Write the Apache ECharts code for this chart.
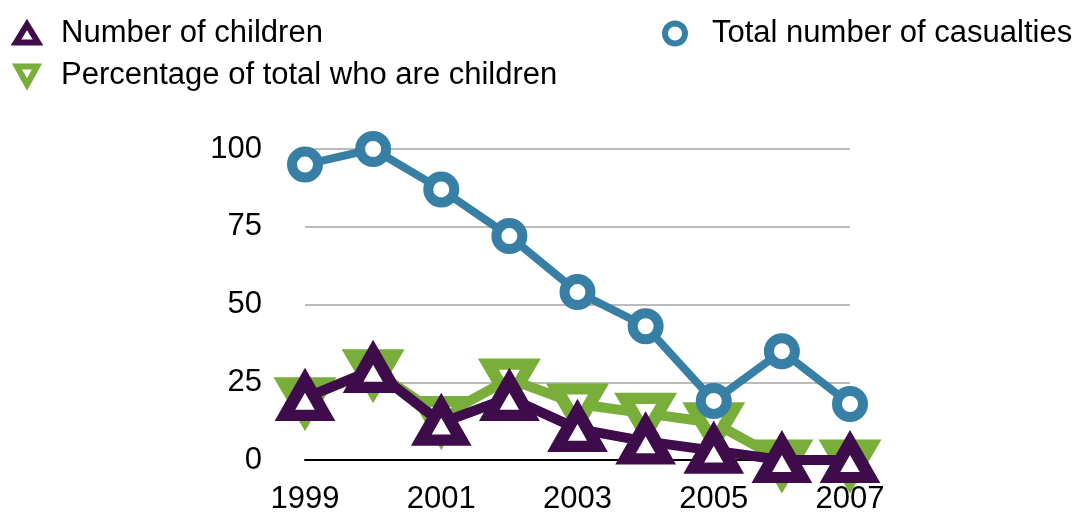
<!DOCTYPE html>
<html>
<head>
<meta charset="utf-8">
<script src="https://cdn.jsdelivr.net/npm/echarts@6/dist/echarts.min.js"></script>
<style>
  html, body { margin: 0; padding: 0; background: #fff; }
  #chart { width: 1083px; height: 516px; }
</style>
</head>
<body>
<div id="chart"></div>
<script>
// 数据
const years = ['1999', '2000', '2001', '2002', '2003', '2004', '2005', '2006', '2007']
const totalCasualties = [95, 100, 87, 72, 54, 43, 19, 35, 18]
const childrenCount = [20, 29, 12, 20, 10, 6, 3, 0, 0]
const childrenPercent = [20, 29, 14, 26, 18, 15, 12, 0, 0]
const yTicks = [0, 25, 50, 75, 100]

const purple = '#3f0c4b'
const green = '#79ae3b'
const blue = '#377fa4'
const downTriangle = 'path://M0,0 L10,0 L5,9 Z'
const font = '"Liberation Sans", Arial, Helvetica, sans-serif'

const myChart = echarts.init(document.getElementById('chart'))

let series = [
    {
        name: 'Percentage of total who are children',
        type: 'line',
        data: childrenPercent,
        symbol: downTriangle,
        symbolSize: [42, 36],
        symbolOffset: [0, 3],
        itemStyle: { color: '#fff', borderColor: green, borderWidth: 12 },
        lineStyle: { color: green, width: 10 },
        z: 2
    },
    {
        name: 'Number of children',
        type: 'line',
        data: childrenCount,
        symbol: 'triangle',
        symbolSize: [40, 35],
        itemStyle: { color: '#fff', borderColor: purple, borderWidth: 12 },
        lineStyle: { color: purple, width: 10 },
        z: 3
    },
    {
        name: 'Total number of casualties',
        type: 'line',
        data: totalCasualties,
        symbol: 'circle',
        symbolSize: 26,
        itemStyle: { color: '#fff', borderColor: blue, borderWidth: 10 },
        lineStyle: { color: blue, width: 8 },
        z: 4
    }
]

myChart.setOption({
    animation: false,
    textStyle: { fontFamily: font },
    legend: [
        {
            left: 8,
            top: 13,
            orient: 'vertical',
            itemGap: 11,
            itemWidth: 22,
            itemHeight: 18,
            textStyle: { fontSize: 31, color: '#000', fontFamily: font, padding: [0, 0, 0, 18] },
            data: [
                { name: 'Number of children', icon: 'triangle', itemStyle: { color: '#fff', borderColor: purple, borderWidth: 6 } },
                { name: 'Percentage of total who are children', icon: downTriangle, itemStyle: { color: '#fff', borderColor: green, borderWidth: 6 } }
            ]
        },
        {
            left: 657,
            top: 13,
            itemWidth: 20,
            itemHeight: 20,
            textStyle: { fontSize: 31, color: '#000', fontFamily: font, padding: [0, 0, 0, 22] },
            data: [
                { name: 'Total number of casualties', icon: 'circle', itemStyle: { color: '#fff', borderColor: blue, borderWidth: 6 } }
            ]
        }
    ],
    grid: {
        left: 305,
        right: 233,
        top: 149,
        bottom: 56
    },
    xAxis: {
        type: 'category',
        data: years,
        boundaryGap: false,
        axisLine: { show: true, lineStyle: { color: '#000', width: 2 } },
        axisTick: { show: false },
        axisLabel: {
            interval: 1,
            fontSize: 31,
            color: '#000',
            margin: 24,
            fontFamily: font
        },
        splitLine: { show: false }
    },
    yAxis: {
        type: 'value',
        min: yTicks[0],
        max: yTicks[yTicks.length - 1],
        interval: 25,
        axisLine: { show: false },
        axisTick: { show: false },
        axisLabel: {
            fontSize: 31,
            color: '#000',
            margin: 43,
            fontFamily: font
        },
        splitLine: { show: true, lineStyle: { color: '#bbbbbb', width: 2 } }
    },
    series: series
})
</script>
</body>
</html>
